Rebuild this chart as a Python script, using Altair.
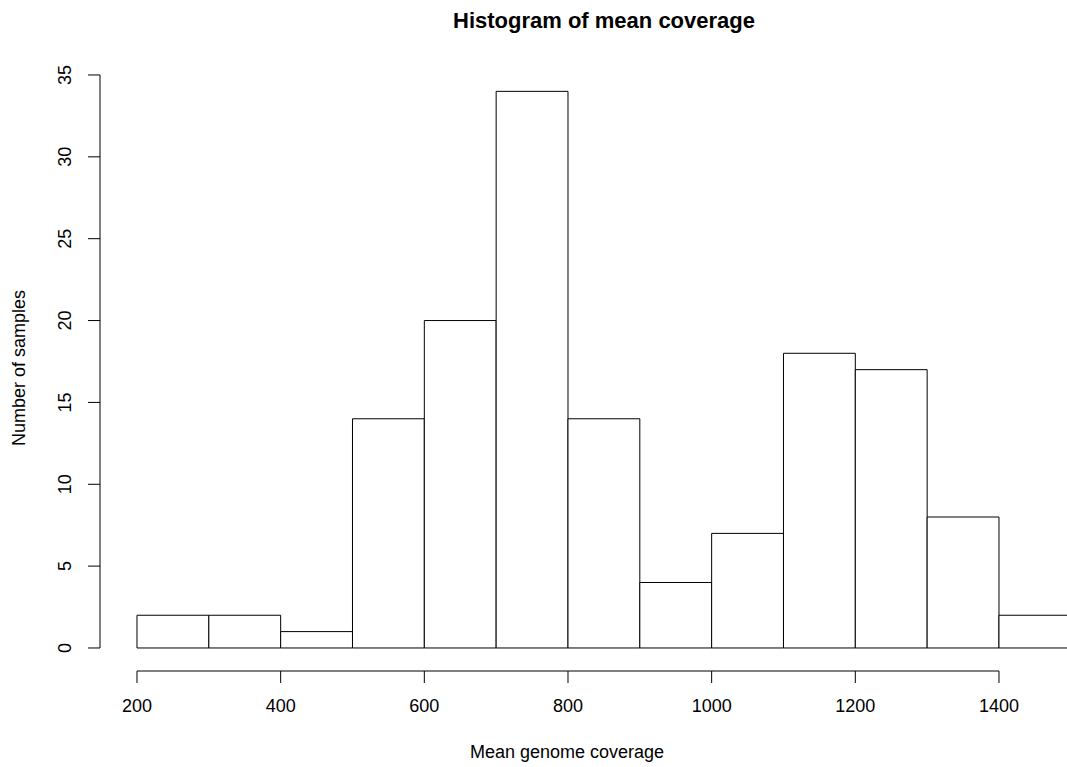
import altair as alt
import pandas as pd

# Histogram data (bin edges and counts)
bin_start = [200, 300, 400, 500, 600, 700, 800, 900, 1000, 1100, 1200, 1300, 1400]
bin_end = [300, 400, 500, 600, 700, 800, 900, 1000, 1100, 1200, 1300, 1400, 1500]
counts = [2, 2, 1, 14, 20, 34, 14, 4, 7, 18, 17, 8, 2]

x_ticks = [200, 400, 600, 800, 1000, 1200, 1400]
y_ticks = [0, 5, 10, 15, 20, 25, 30, 35]

title_text = "Histogram of mean coverage"
x_title = "Mean genome coverage"
y_title = "Number of samples"

bars_df = pd.DataFrame({"start": bin_start, "end": bin_end, "count": counts})
xt_df = pd.DataFrame({"v": x_ticks, "label": [str(v) for v in x_ticks]})
yt_df = pd.DataFrame({"v": y_ticks, "label": [str(v) for v in y_ticks]})

W, H = 1067, 767
xs = alt.Scale(domain=[9.28, 1494.7], nice=False, zero=False)
ys = alt.Scale(domain=[-7.27, 39.58], nice=False, zero=False)
FONT = "Liberation Sans"

bars = alt.Chart(bars_df).mark_rect(
    fill="white", stroke="black", strokeWidth=1, clip=True
).encode(
    x=alt.X("start:Q", scale=xs, axis=None),
    x2="end:Q",
    y=alt.Y("count:Q", scale=ys, axis=None),
    y2=alt.datum(0),
)

# x axis (R style, detached)
x_line = alt.Chart(pd.DataFrame({"a": [x_ticks[0]], "b": [x_ticks[-1]]})).mark_rule(
    color="black", strokeWidth=1
).encode(x=alt.X("a:Q", scale=xs), x2="b:Q", y=alt.value(671))
x_tick_marks = alt.Chart(xt_df).mark_rule(color="black", strokeWidth=1).encode(
    x=alt.X("v:Q", scale=xs), y=alt.value(671), y2=alt.value(683)
)
x_labels = alt.Chart(xt_df).mark_text(
    font=FONT, fontSize=18, baseline="middle", align="center", color="black"
).encode(x=alt.X("v:Q", scale=xs), y=alt.value(707), text="label:N")

# y axis
y_line = alt.Chart(pd.DataFrame({"a": [y_ticks[0]], "b": [y_ticks[-1]]})).mark_rule(
    color="black", strokeWidth=1
).encode(y=alt.Y("a:Q", scale=ys), y2="b:Q", x=alt.value(100))
y_tick_marks = alt.Chart(yt_df).mark_rule(color="black", strokeWidth=1).encode(
    y=alt.Y("v:Q", scale=ys), x=alt.value(88), x2=alt.value(100)
)
y_labels = alt.Chart(yt_df).mark_text(
    font=FONT, fontSize=18, baseline="middle", align="center", angle=270, color="black"
).encode(y=alt.Y("v:Q", scale=ys), x=alt.value(66), text="label:N")

title = alt.Chart(pd.DataFrame({"t": [title_text]})).mark_text(
    font=FONT, fontSize=22, fontWeight="bold", align="center", baseline="alphabetic", color="black"
).encode(x=alt.value(604), y=alt.value(28), text="t:N")
xt = alt.Chart(pd.DataFrame({"t": [x_title]})).mark_text(
    font=FONT, fontSize=18, align="center", baseline="alphabetic", color="black"
).encode(x=alt.value(567), y=alt.value(758), text="t:N")
yt = alt.Chart(pd.DataFrame({"t": [y_title]})).mark_text(
    font=FONT, fontSize=18, align="center", baseline="alphabetic", angle=270, color="black"
).encode(x=alt.value(25), y=alt.value(368), text="t:N")

chart = alt.layer(
    bars, x_line, x_tick_marks, x_labels, y_line, y_tick_marks, y_labels, title, xt, yt
).properties(
    width=W, height=H, padding=0, autosize=alt.AutoSizeParams(type="none"),
    background="white"
).configure_view(stroke=None)

chart.save("out.html", embed_options={"renderer": "svg", "actions": False})
